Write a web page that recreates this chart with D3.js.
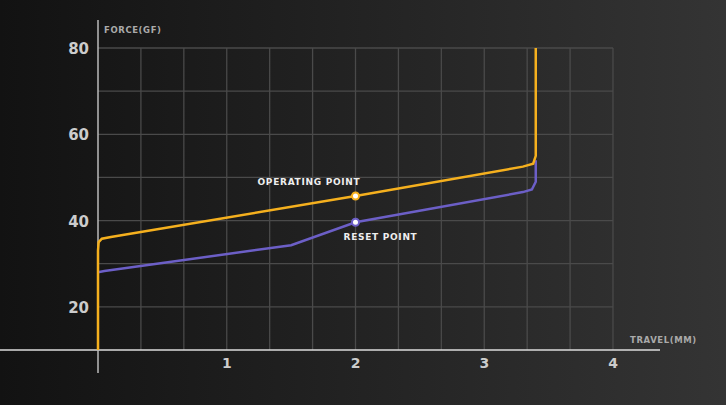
<!DOCTYPE html>
<html>
<head>
<script src="https://d3js.org/d3.v7.min.js"></script>
<style>
body{margin:0;background:#222;}
text{font-family:"DejaVu Sans",sans-serif;font-weight:bold;}
</style>
</head>
<body>
<svg width="726" height="405"></svg>
<script>
// travel (mm) vs force (gf)
var opTravel = [0, 0, 0.005, 0.03, 0.1, 2, 3.3, 3.38, 3.4, 3.4];
var opForce  = [10, 33, 35, 35.8, 36.2, 45.7, 52.5, 53.2, 55, 80];
var rsTravel = [0, 0.05, 1.5, 2, 3.3, 3.37, 3.4, 3.4];
var rsForce  = [28, 28.3, 34.3, 39.6, 46.6, 47.2, 49, 54];
var xTicks = [1, 2, 3, 4];
var yTicks = [20, 40, 60, 80];
var opPoint = [2, 45.7], rsPoint = [2, 39.6];

var svg = d3.select('svg');
var defs = svg.append('defs');
var g = defs.append('linearGradient').attr('id','bg');
g.append('stop').attr('offset','0%').attr('stop-color','#121212');
g.append('stop').attr('offset','100%').attr('stop-color','#343434');
svg.append('rect').attr('width',726).attr('height',405).attr('fill','url(#bg)');

var x = d3.scaleLinear().domain([0,4]).range([98,613]);
var y = d3.scaleLinear().domain([10,80]).range([350,48]);

// grid
svg.selectAll('.vg').data(d3.range(1,13)).enter().append('line')
  .attr('x1',d=>x(d/3)).attr('x2',d=>x(d/3)).attr('y1',y(80)).attr('y2',y(10))
  .attr('stroke','#4a4a4a').attr('stroke-width',1.3);
svg.selectAll('.hg').data(d3.range(20,81,10)).enter().append('line')
  .attr('x1',x(0)).attr('x2',x(4)).attr('y1',d=>y(d)).attr('y2',d=>y(d))
  .attr('stroke','#4a4a4a').attr('stroke-width',1.3);

// axes
svg.append('line').attr('x1',0).attr('x2',660).attr('y1',y(10)).attr('y2',y(10))
  .attr('stroke','#ddd').attr('stroke-width',1.5);
svg.append('line').attr('x1',x(0)).attr('x2',x(0)).attr('y1',20).attr('y2',373)
  .attr('stroke','#bbb').attr('stroke-width',1.5);

svg.selectAll('.xt').data(xTicks).enter().append('text')
  .attr('x',d=>x(d)).attr('y',368).attr('text-anchor','middle')
  .attr('fill','#ccc').attr('font-size',14).text(d=>d);
svg.selectAll('.yt').data(yTicks).enter().append('text')
  .attr('x',89).attr('y',d=>y(d)+6).attr('text-anchor','end')
  .attr('fill','#ccc').attr('font-size',15).text(d=>d);

svg.append('text').attr('x',104).attr('y',33).attr('fill','#aaa')
  .attr('font-size',8.5).attr('letter-spacing',0.6).text('FORCE(GF)');
svg.append('text').attr('x',630).attr('y',343).attr('fill','#aaa')
  .attr('font-size',8.5).attr('letter-spacing',0.6).text('TRAVEL(MM)');

var line = d3.line().x(d=>x(d[0])).y(d=>y(d[1])).curve(d3.curveLinear);
svg.append('path').datum(rsTravel.map((t,i)=>[t,rsForce[i]]))
  .attr('d',line).attr('fill','none').attr('stroke','#6c5fc7').attr('stroke-width',2.5);
svg.append('path').datum(opTravel.map((t,i)=>[t,opForce[i]]))
  .attr('d',line).attr('fill','none').attr('stroke','#f5b01e').attr('stroke-width',2.5);

svg.append('circle').attr('cx',x(opPoint[0])).attr('cy',y(opPoint[1])).attr('r',3.5)
  .attr('fill','#fff').attr('stroke','#f5b01e').attr('stroke-width',2);
svg.append('circle').attr('cx',x(rsPoint[0])).attr('cy',y(rsPoint[1])).attr('r',3.5)
  .attr('fill','#fff').attr('stroke','#6c5fc7').attr('stroke-width',2);

svg.append('text').attr('x',x(2)-98).attr('y',y(opPoint[1])-11).attr('fill','#eee')
  .attr('font-size',9).attr('letter-spacing',0.7).text('OPERATING POINT');
svg.append('text').attr('x',x(2)-12).attr('y',y(rsPoint[1])+18).attr('fill','#eee')
  .attr('font-size',9).attr('letter-spacing',0.7).text('RESET POINT');
</script>
</body>
</html>
